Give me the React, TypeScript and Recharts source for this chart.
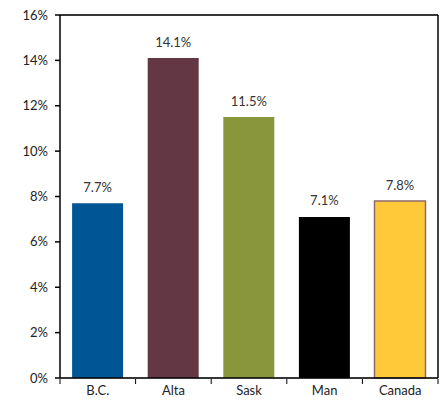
import {Bar, BarChart, CartesianGrid, Cell, LabelList, XAxis, YAxis} from "recharts";

const regions = ["B.C.", "Alta", "Sask", "Man", "Canada"];
const rates = [7.7, 14.1, 11.5, 7.1, 7.8];
const barColors = ["#005595", "#633844", "#8A963B", "#000000", "#FFC93A"];
const barStrokes = ["none", "none", "none", "none", "#8C6A6D"];
const yTicks = [0, 2, 4, 6, 8, 10, 12, 14, 16];

const data = regions.map((name, i) => ({name, value: rates[i]}));

const W = 443;
const H = 405;
const margin = {top: 14, right: 4, bottom: 0, left: 10};
const yAxisW = 50;
const band = (W - margin.left - margin.right - 1 - yAxisW) / regions.length;
const font = "Lato, 'Open Sans', sans-serif";

function XTick(props: any) {
    const {x, y, payload, index} = props;
    const axisY = y - 7;
    const left = x - band / 2;
    return (
        <g>
            <line x1={left} x2={left} y1={axisY} y2={axisY + 5} stroke="#000"/>
            {index === regions.length - 1 && (
                <line x1={x + band / 2} x2={x + band / 2} y1={axisY} y2={axisY + 5} stroke="#000"/>
            )}
            <text x={x} y={y} dy="0.71em" textAnchor="middle" fill="#222" fontSize={13} fontFamily={font}>
                {payload.value}
            </text>
        </g>
    );
}

function ValueLabel(props: any) {
    const {x, y, width, value} = props;
    const cx = x + width / 2;
    const cy = y - 16;
    const text = `${Number(value).toFixed(1)}%`;
    const boxW = text.length * 7 + 8;
    return (
        <g>
            <rect x={cx - boxW / 2} y={cy - 9} width={boxW} height={18} fill="#fff"/>
            <text x={cx} y={cy} dy="0.35em" textAnchor="middle" fill="#333" fontSize={13} fontFamily={font}>
                {text}
            </text>
        </g>
    );
}

export default function App() {
    return (
        <div style={{position: "absolute", left: 0, top: 0, width: W, height: H, background: "#fff"}}>
            <BarChart width={W} height={H} data={data} margin={margin} barCategoryGap="16%">
                <CartesianGrid vertical={false} stroke="#C8C8C8" strokeWidth={1.5}/>
                <XAxis dataKey="name" xAxisId="main" height={27} axisLine={{stroke: "#000", strokeWidth: 1.5}}
                       tickLine={false} tick={<XTick/>} interval={0}/>
                <XAxis dataKey="name" xAxisId="top" orientation="top" height={1} tick={false} tickLine={false}
                       axisLine={{stroke: "#000", strokeWidth: 1.5}}/>
                <YAxis yAxisId="main" width={yAxisW} domain={[0, 16]} ticks={yTicks} interval={0}
                       tickFormatter={(v) => `${v}%`} tickSize={5} tickMargin={7}
                       axisLine={{stroke: "#000", strokeWidth: 1.5}} tickLine={{stroke: "#000", strokeWidth: 1.5}}
                       tick={{fill: "#222", fontSize: 13, fontFamily: font}}/>
                <YAxis yAxisId="right" orientation="right" width={1} domain={[0, 16]} tick={false} tickLine={false}
                       axisLine={{stroke: "#000", strokeWidth: 1.5}}/>
                <Bar dataKey="value" xAxisId="main" yAxisId="main" isAnimationActive={false}>
                    {data.map((d, i) => (
                        <Cell key={d.name} fill={barColors[i]} stroke={barStrokes[i]} strokeWidth={1.5}/>
                    ))}
                    <LabelList dataKey="value" content={<ValueLabel/>}/>
                </Bar>
            </BarChart>
        </div>
    );
}
